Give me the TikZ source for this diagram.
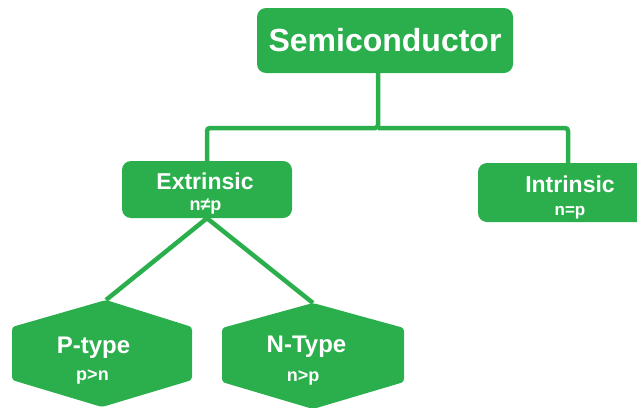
\documentclass[tikz,border=0pt]{standalone}
\usepackage{fontspec}
\setmainfont{Liberation Sans}
\usetikzlibrary{calc,positioning}
\definecolor{semigreen}{RGB}{42,175,76}

\begin{document}
\begin{tikzpicture}[x=1pt,y=-1pt,
  box/.style={fill=semigreen,rounded corners=9pt,inner sep=0pt,text=white},
  link/.style={draw=semigreen,line width=4.5pt,rounded corners=3pt},
  hexa/.style={fill=semigreen,rounded corners=3pt},
  head/.style={text=white,inner sep=0pt,anchor=base,font=\fontsize{23}{23}\selectfont\bfseries},
  note/.style={text=white,inner sep=0pt,anchor=base,font=\fontsize{18}{18}\selectfont\bfseries}]
 \clip (0,0) rectangle (637,407);
 % boxes
 \node[box,minimum width=256pt,minimum height=65pt,font=\fontsize{32}{32}\selectfont\bfseries] (semi) at (385,40.5) {Semiconductor};
 \node[box,minimum width=170pt,minimum height=57pt] (extr) at (207,189.5) {};
 \node[box,minimum width=180pt,minimum height=59pt] (intr) at (568,192.5) {};
 \fill[hexa] (106,300) -- (192,327) -- (192,380) -- (102,407) -- (12,380) -- (12,327) -- cycle;
 \fill[hexa] (313,303) -- (404,328) -- (404,382) -- (313,409) -- (222,382) -- (222,328) -- cycle;
 \coordinate (ptop) at (106,300);
 \coordinate (ntop) at (313,303);
 \coordinate (fork) at (378,128);
 % labels
 \node[head] (extrname) at (205,189) {Extrinsic};
 \node[note] (extrnote) at (205.5,210) {n≠p};
 \node[head] (intrname) at (570,192) {Intrinsic};
 \node[note,font=\fontsize{17}{17}\selectfont\bfseries] (intrnote) at (570,215) {n=p};
 \node[head,font=\fontsize{24}{24}\selectfont\bfseries] (pname) at (93.5,353) {P-type};
 \node[note] (pnote) at (92.5,380) {p>n};
 \node[head,font=\fontsize{24}{24}\selectfont\bfseries] (nname) at (306.5,352) {N-Type};
 \node[note] (nnote) at (303,381) {n>p};
 % connectors
 \draw[link] (fork |- semi.south) -- (fork) -| (extr.north);
 \draw[link] (fork) -| (intr.north);
 \draw[link] (extr.south) -- (ptop);
 \draw[link] (extr.south) -- (ntop);
\end{tikzpicture}
\end{document}
